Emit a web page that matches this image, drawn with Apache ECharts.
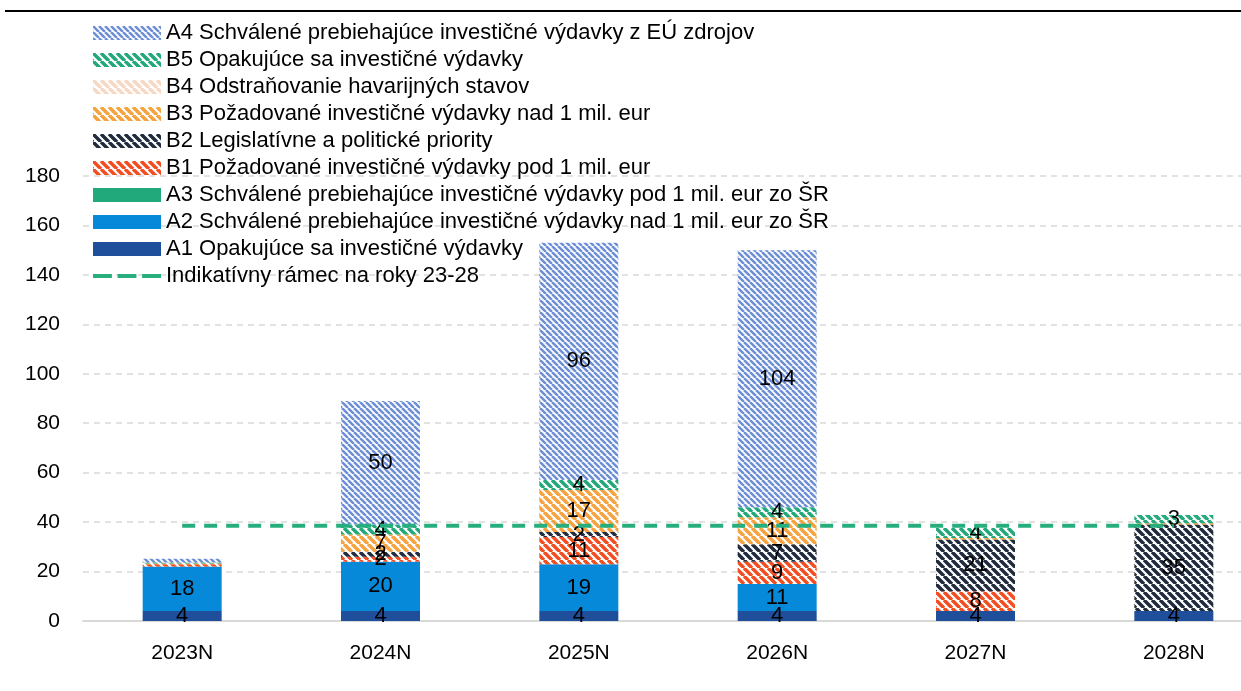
<!DOCTYPE html>
<html>
<head>
<meta charset="utf-8">
<script src="https://cdn.jsdelivr.net/npm/echarts@6/dist/echarts.min.js"></script>
<style>
  html, body { margin: 0; padding: 0; background: #fff; }
  #chart { width: 1241px; height: 691px; }
</style>
</head>
<body>
<div id="chart"></div>
<script>
const years = ['2023N', '2024N', '2025N', '2026N', '2027N', '2028N'];

const a1 = [4, 4, 4, 4, 4, 4];
const a2 = [18, 20, 19, 11, 0, 0];
const a3 = [0, 0, 0, 0, 0, 0];
const b1 = [1, 2, 11, 9, 8, 0];
const b2 = [0, 2, 2, 7, 21, 35];
const b3 = [0.3, 7, 17, 11, 0.6, 0.5];
const b4 = [0, 0, 0, 0, 0, 0];
const b5 = [0.4, 4, 4, 4, 4, 3.4];
const a4 = [1.5, 50, 96, 104, 0, 0];
const frame = [38.5, 38.5, 38.5, 38.5, 38.5, 38.5];

const yTicks = { min: 0, max: 180, interval: 20 };

const FONT = 'Liberation Sans, Arial, sans-serif';

// diagonal hatch fill, like the excel pattern fills
function stripes(color, size, lw) {
  const c = document.createElement('canvas');
  c.width = size;
  c.height = size;
  const ctx = c.getContext('2d');
  ctx.fillStyle = '#fff';
  ctx.fillRect(0, 0, size, size);
  ctx.strokeStyle = color;
  ctx.lineWidth = lw;
  ctx.beginPath();
  for (const k of [-size, 0, size]) {
    ctx.moveTo(k, 0);
    ctx.lineTo(k + size, size);
  }
  ctx.stroke();
  return { image: c, repeat: 'repeat' };
}

const chart = echarts.init(document.getElementById('chart'));

const label = {
  show: true,
  position: 'inside',
  color: '#000',
  fontSize: 22,
  fontFamily: FONT,
  formatter: (p) => (p.value >= 2 ? Math.round(p.value) : ''),
};

function bar(name, data, color) {
  return {
    name,
    type: 'bar',
    stack: 'total',
    barWidth: 79,
    data,
    itemStyle: { color },
    label,
  };
}

const series = [
  bar('A1 Opakujúce sa investičné výdavky', a1, '#1f4e9b'),
  bar('A2 Schválené prebiehajúce investičné výdavky nad 1 mil. eur zo ŠR', a2, '#0689d8'),
  bar('A3 Schválené prebiehajúce investičné výdavky pod 1 mil. eur zo ŠR', a3, '#21a97b'),
  bar('B1 Požadované investičné výdavky pod 1 mil. eur', b1, stripes('#f24e22', 8, 3.5)),
  bar('B2 Legislatívne a politické priority', b2, stripes('#212c3e', 8, 3.5)),
  bar('B3 Požadované investičné výdavky nad 1 mil. eur', b3, stripes('#f5a23f', 8, 3.5)),
  bar('B4 Odstraňovanie havarijných stavov', b4, stripes('#f6d8c4', 8, 3.5)),
  bar('B5 Opakujúce sa investičné výdavky', b5, stripes('#22a87a', 8, 3.5)),
  bar('A4 Schválené prebiehajúce investičné výdavky z EÚ zdrojov', a4, stripes('#6d8fd6', 6, 2.5)),
  {
    name: 'Indikatívny rámec na roky 23-28',
    type: 'line',
    data: frame,
    symbol: 'none',
    z: 5,
    lineStyle: { color: '#27ae7d', width: 4, type: [13, 9] },
    itemStyle: { color: '#27ae7d' },
  },
];

const legendOrder = [8, 7, 6, 5, 4, 3, 2, 1, 0, 9].map((i) => series[i].name);

chart.setOption({
  animation: false,
  textStyle: { fontFamily: FONT },
  graphic: [
    {
      type: 'line',
      shape: { x1: 5, y1: 11, x2: 1241, y2: 11 },
      style: { stroke: '#000', lineWidth: 2 },
    },
  ],
  legend: {
    orient: 'vertical',
    left: 88,
    top: 17,
    itemWidth: 68,
    itemHeight: 14,
    itemGap: 5,
    icon: 'rect',
    data: legendOrder.map((name, i) =>
      i === 9 ? { name, icon: 'path://M0,0 H20 V4 H0 Z M26,0 H46 V4 H26 Z M52,0 H72 V4 H52 Z' } : { name }
    ),
    textStyle: { fontSize: 22, color: '#000', fontFamily: FONT },
  },
  grid: { left: 83, top: 176, width: 1190, height: 445, outerBoundsMode: 'none' },
  xAxis: {
    type: 'category',
    data: years,
    axisTick: { show: false },
    axisLine: { lineStyle: { color: '#d9d9d9', width: 2 } },
    axisLabel: { color: '#000', fontSize: 21, margin: 22, fontFamily: FONT },
  },
  yAxis: {
    type: 'value',
    min: yTicks.min,
    max: yTicks.max,
    interval: yTicks.interval,
    axisLine: { show: false },
    axisTick: { show: false },
    axisLabel: { color: '#000', fontSize: 21, margin: 23, fontFamily: FONT },
    splitLine: { lineStyle: { color: '#d9d9d9', type: [6, 5], width: 1.5 } },
  },
  series,
});
</script>
</body>
</html>
